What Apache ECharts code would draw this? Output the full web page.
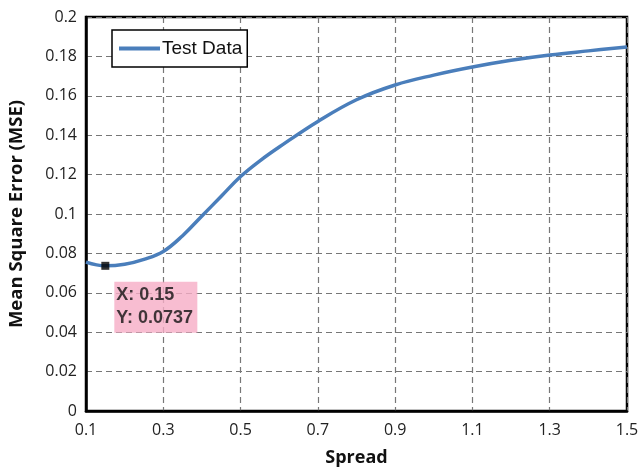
<!DOCTYPE html>
<html><head><meta charset="utf-8">
<script src="https://cdn.jsdelivr.net/npm/echarts@6/dist/echarts.min.js"></script>
<style>html,body{margin:0;padding:0;background:#fff}#c{width:638px;height:467px}</style>
</head><body><div id="c"></div>
<script>
const spread = [0.1, 0.15, 0.2, 0.25, 0.3, 0.35, 0.4, 0.45, 0.5, 0.55, 0.6, 0.7, 0.8, 0.9, 1.0, 1.1, 1.2, 1.3, 1.4, 1.5];
const mse = [0.0756, 0.0737, 0.0745, 0.0770, 0.0810, 0.0890, 0.0990, 0.1090, 0.1190, 0.1270, 0.1340, 0.1470, 0.1580, 0.1655, 0.1705, 0.1746, 0.1780, 0.1807, 0.1828, 0.1848];
const seriesName = 'Test Data';
const tipX = 0.15, tipY = 0.0737;
const xTitle = 'Spread', yTitle = 'Mean Square Error (MSE)';

const chart = echarts.init(document.getElementById('c'), null, {renderer: 'canvas'});
const tickFont = {fontFamily: 'Open Sans', fontSize: 16, color: '#222'};
chart.setOption({
  animation: false,
  grid: {left: 86, right: 11, top: 17, bottom: 56, containLabel: false, outerBoundsMode: 'none', show: true, borderColor: '#000', borderWidth: 2.5, backgroundColor: 'transparent'},
  legend: {
    left: 112, top: 30, orient: 'horizontal',
    data: [{name: seriesName, icon: 'rect'}],
    itemWidth: 41, itemHeight: 4,
    padding: [9, 5, 9, 7],
    borderColor: '#000', borderWidth: 1.5, backgroundColor: '#fff',
    textStyle: {fontFamily: 'Liberation Sans', fontSize: 19, color: '#111', padding: [0, 0, 0, -3]}
  },
  xAxis: {
    type: 'value', min: 0.1, max: 1.5, interval: 0.2,
    name: xTitle, nameLocation: 'middle', nameGap: 38,
    nameTextStyle: {fontFamily: 'Open Sans', fontWeight: 'bold', fontSize: 18, color: '#111'},
    axisLine: {show: true, lineStyle: {color: '#000', width: 2.5}},
    axisTick: {show: false},
    axisLabel: Object.assign({margin: 11}, tickFont),
    splitLine: {show: true, lineStyle: {color: '#777', width: 1.2, type: [6, 4]}}
  },
  yAxis: {
    type: 'value', min: 0, max: 0.2, interval: 0.02,
    name: yTitle, nameLocation: 'middle', nameGap: 60,
    nameTextStyle: {fontFamily: 'Open Sans', fontWeight: 'bold', fontSize: 18.5, color: '#111'},
    axisLine: {show: true, lineStyle: {color: '#000', width: 2.5}},
    axisTick: {show: false},
    axisLabel: Object.assign({margin: 9}, tickFont),
    splitLine: {show: true, lineStyle: {color: '#777', width: 1.2, type: [6, 4]}}
  },
  series: [
    {
      name: seriesName, type: 'line', smooth: 0.4, symbol: 'none',
      data: spread.map((x, i) => [x, mse[i]]),
      lineStyle: {color: '#4a7ebb', width: 3.5},
      itemStyle: {color: '#4a7ebb'}
    },
    {
      name: 'tip', type: 'scatter', symbol: 'rect', symbolSize: 8,
      data: [[tipX, tipY]],
      itemStyle: {color: '#000'},
      z: 5,
      label: {
        show: true,
        position: [13, 20],
        formatter: 'X: ' + tipX + '\nY: ' + tipY,
        backgroundColor: '#f6adc6',
        fontFamily: 'Liberation Sans', fontWeight: 'bold', fontSize: 18, color: '#111',
        lineHeight: 23,
        width: 79, height: 47,
        padding: [2, 2, 2, 2],
        align: 'left', verticalAlign: 'top'
      }
    }
  ]
});
</script></body></html>
